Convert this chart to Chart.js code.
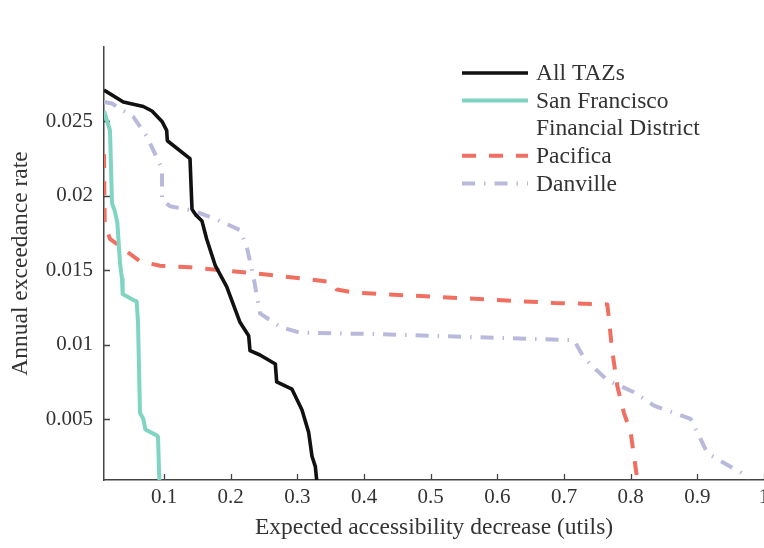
<!DOCTYPE html>
<html>
<head>
<meta charset="utf-8">
<script src="https://cdn.jsdelivr.net/npm/chart.js@4.4.1/dist/chart.umd.min.js"></script>
<style>
  html, body { margin: 0; padding: 0; background: #fff; overflow: hidden; }
  #wrap { position: relative; width: 764px; height: 548px; }
</style>
</head>
<body>
<div id="wrap"><canvas id="exceedance_chart"></canvas></div>
<script>
/*
############################## Data ##############################
*/
var series_labels = ["All TAZs", ["San Francisco", "Financial District"], "Pacifica", "Danville"];

var taz_x = [0.010, 0.039, 0.069, 0.082, 0.097, 0.104, 0.105, 0.139, 0.142, 0.148, 0.157, 0.164, 0.177, 0.194, 0.214, 0.227, 0.229, 0.244, 0.267, 0.269, 0.292, 0.307, 0.317, 0.322, 0.327, 0.329];
var taz_y = [0.0271, 0.0263, 0.0260, 0.0257, 0.0250, 0.0244, 0.0237, 0.0225, 0.0191, 0.0187, 0.0183, 0.0171, 0.0153, 0.0139, 0.0115, 0.0106, 0.0096, 0.0093, 0.0087, 0.0075, 0.0070, 0.0056, 0.0041, 0.0025, 0.0018, 0.0009];

var sf_x = [0.010, 0.019, 0.022, 0.026, 0.030, 0.034, 0.037, 0.038, 0.054, 0.059, 0.061, 0.064, 0.069, 0.072, 0.089, 0.091, 0.093];
var sf_y = [0.0257, 0.0244, 0.0195, 0.0190, 0.0182, 0.0155, 0.0144, 0.0134, 0.0130, 0.0129, 0.0115, 0.0054, 0.0050, 0.0043, 0.0039, 0.0038, 0.0009];

var pacifica_x = [0.010, 0.011, 0.019, 0.064, 0.094, 0.139, 0.234, 0.314, 0.352, 0.359, 0.384, 0.424, 0.685, 0.765, 0.767, 0.772, 0.780, 0.790, 0.800, 0.805, 0.810];
var pacifica_y = [0.0228, 0.0181, 0.0171, 0.0156, 0.0153, 0.0152, 0.0148, 0.0144, 0.0142, 0.0137, 0.0135, 0.0134, 0.0128, 0.0127, 0.0119, 0.0097, 0.0072, 0.0054, 0.0041, 0.0025, 0.0009];

var danville_x = [0.010, 0.022, 0.054, 0.074, 0.091, 0.097, 0.097, 0.109, 0.144, 0.179, 0.214, 0.224, 0.234, 0.244, 0.274, 0.304, 0.424, 0.715, 0.730, 0.765, 0.805, 0.835, 0.890, 0.900, 0.915, 0.965, 0.975];
var danville_y = [0.0263, 0.0262, 0.0253, 0.0240, 0.0224, 0.0218, 0.0197, 0.0193, 0.0190, 0.0184, 0.0177, 0.0166, 0.0146, 0.0121, 0.0112, 0.0108, 0.0107, 0.0103, 0.0091, 0.0076, 0.0068, 0.0059, 0.0050, 0.0041, 0.0027, 0.0014, 0.0009];

var x_ticks = [0.1, 0.2, 0.3, 0.4, 0.5, 0.6, 0.7, 0.8, 0.9, 1.0];
var y_ticks = [0.005, 0.01, 0.015, 0.02, 0.025];

var text_color = "#333";
var serif = "'Liberation Serif', 'Times New Roman', serif";

/*
############################## Helpers ##############################
*/
function to_points(xs, ys) {
    let points = [];
    for (let index = 0; index < xs.length; index++) {
        points.push({ x: xs[index], y: ys[index] });
    }
    return points;
}

function make_dataset(label, xs, ys, color, width, dash) {
    return {
        label: label,
        data: to_points(xs, ys),
        borderColor: color,
        borderWidth: width,
        borderDash: dash,
        borderCapStyle: "butt",
        borderJoinStyle: "round",
        pointRadius: 0,
        tension: 0,
        fill: false
    };
}

// tick marks pointing into the plot area
var inward_ticks = {
    id: "inward_ticks",
    beforeDatasetsDraw(chart) {
        let ctx = chart.ctx;
        let area = chart.chartArea;
        let xs = chart.scales.x, ys = chart.scales.y;
        ctx.save();
        ctx.strokeStyle = "#444";
        ctx.lineWidth = 1.3;
        ctx.beginPath();
        x_ticks.forEach(v => {
            let px = Math.round(xs.getPixelForValue(v)) + 0.5;
            ctx.moveTo(px, area.bottom);
            ctx.lineTo(px, area.bottom - 6);
        });
        y_ticks.forEach(v => {
            let py = Math.round(ys.getPixelForValue(v)) + 0.5;
            ctx.moveTo(area.left, py);
            ctx.lineTo(area.left + 6, py);
        });
        ctx.stroke();
        ctx.restore();
    }
};

// legend with a two-line entry
var line_legend = {
    id: "line_legend",
    afterDraw(chart) {
        let ctx = chart.ctx;
        let x0 = 462, x1 = 528, tx = 536;
        let y = 73, step = 27.6;
        ctx.save();
        ctx.font = "23.5px " + serif;
        ctx.fillStyle = text_color;
        ctx.textBaseline = "middle";
        chart.data.datasets.forEach(ds => {
            ctx.beginPath();
            ctx.strokeStyle = ds.borderColor;
            ctx.lineWidth = ds.borderWidth;
            ctx.lineCap = "butt";
            ctx.setLineDash(ds.borderDash || []);
            ctx.moveTo(x0, y);
            ctx.lineTo(x1, y);
            ctx.stroke();
            ctx.setLineDash([]);
            let lines = Array.isArray(ds.label) ? ds.label : [ds.label];
            lines.forEach(line => {
                ctx.fillText(line, tx, y + 1);
                y += step;
            });
        });
        ctx.restore();
    }
};

/*
############################## Chart ##############################
*/
function draw_exceedance_chart() {
    var ctx = document.getElementById("exceedance_chart");

    let datasets = [
        make_dataset(series_labels[0], taz_x, taz_y, "#111111", 3.6, []),
        make_dataset(series_labels[1], sf_x, sf_y, "#80d4c2", 4, []),
        make_dataset(series_labels[2], pacifica_x, pacifica_y, "#ef6f60", 4, [14, 13]),
        make_dataset(series_labels[3], danville_x, danville_y, "#b9b9dc", 4, [13, 9, 1.5, 9])
    ];

    return new Chart(ctx, {
        type: "line",
        data: { datasets: datasets },
        plugins: [inward_ticks, line_legend],
        options: {
            responsive: true,
            maintainAspectRatio: false,
            animation: false,
            layout: { padding: { top: 47, left: 0, right: 0, bottom: 0 } },
            plugins: {
                legend: { display: false },
                tooltip: { enabled: false }
            },
            scales: {
                x: {
                    type: "linear",
                    min: 0.01,
                    max: 1.0,
                    afterBuildTicks: scale => { scale.ticks = x_ticks.map(v => ({ value: v })); },
                    afterFit: scale => {
                        scale.height = 68;
                        scale.paddingLeft = 0;
                        scale.paddingRight = 0;
                    },
                    grid: { display: false, drawTicks: false },
                    border: { display: true, color: "#444", width: 1.5 },
                    ticks: {
                        padding: 5,
                        maxRotation: 0,
                        autoSkip: false,
                        color: text_color,
                        font: { family: serif, size: 21 },
                        callback: v => String(Math.round(v * 10) / 10)
                    },
                    title: {
                        display: true,
                        text: "Expected accessibility decrease (utils)",
                        color: text_color,
                        font: { family: serif, size: 23.5 },
                        padding: { top: 0, bottom: 6 }
                    }
                },
                y: {
                    type: "linear",
                    min: 0.0009,
                    max: 0.03,
                    afterBuildTicks: scale => { scale.ticks = y_ticks.map(v => ({ value: v })); },
                    afterFit: scale => {
                        scale.width = 104;
                        scale.paddingTop = 0;
                        scale.paddingBottom = 0;
                    },
                    grid: { display: false, drawTicks: false },
                    border: { display: true, color: "#444", width: 1.5 },
                    ticks: {
                        padding: 11,
                        autoSkip: false,
                        color: text_color,
                        font: { family: serif, size: 21 },
                        callback: v => String(Math.round(v * 1000) / 1000)
                    },
                    title: {
                        display: true,
                        text: "Annual exceedance rate",
                        color: text_color,
                        font: { family: serif, size: 23.5 },
                        padding: { top: 7, bottom: 0 }
                    }
                }
            }
        }
    });
}

draw_exceedance_chart();
</script>
</body>
</html>
